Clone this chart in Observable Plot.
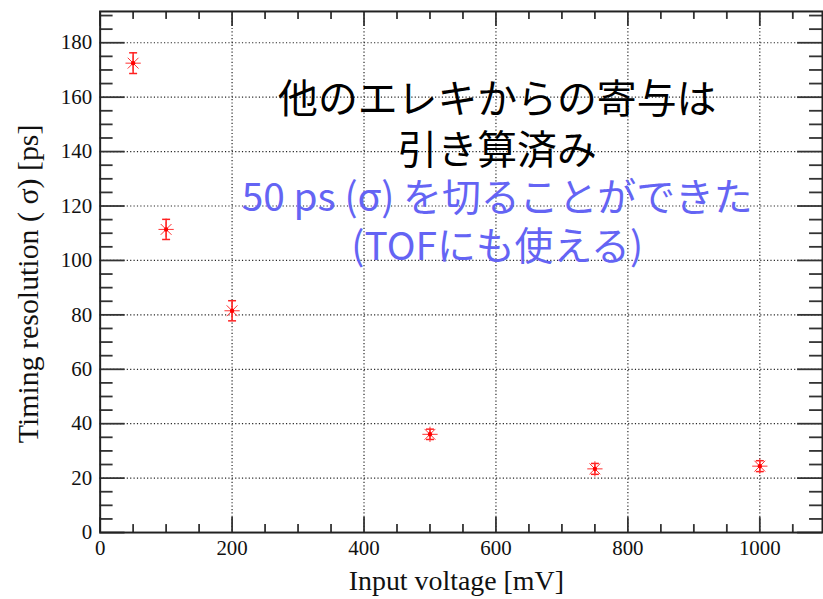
<!DOCTYPE html>
<html>
<head>
<meta charset="utf-8">
<script src="https://cdn.jsdelivr.net/npm/d3@7"></script>
<script src="https://cdn.jsdelivr.net/npm/@observablehq/plot@0.6"></script>
<style>
  html, body { margin: 0; padding: 0; background: #fff; overflow: hidden; }
  #chart svg { display: block; }
</style>
</head>
<body>
<div id="chart"></div>
<script>
// ---- data ----
const inputVoltage = [50, 100, 200, 500, 750, 1000];            // mV
const timingResolution = [172.5, 111.4, 81.5, 36.1, 23.4, 24.4]; // ps (sigma)
const resolutionError = [3.8, 3.7, 3.7, 1.9, 2.0, 2.0];          // ps

const xTickLabels = [0, 200, 400, 600, 800, 1000];
const yTickLabels = [0, 20, 40, 60, 80, 100, 120, 140, 160, 180];

const xTitle = "Input voltage [mV]";
const yTitle = "Timing resolution ( σ) [ps]";
const annotationBlack = ["他のエレキからの寄与は", "引き算済み"];
const annotationBlue = ["50 ps (σ) を切ることができた", "(TOFにも使える)"];

// ---- derived ----
const points = inputVoltage.map((v, i) => ({v, s: timingResolution[i], e: resolutionError[i]}));
const xMax = 1095, yMax = 191.5;
const xMinor = d3.range(50, xMax, 50).filter(d => d % 200 !== 0);
const yMinor = d3.range(5, yMax, 5).filter(d => d % 20 !== 0);

const W = 826, H = 599;
const mL = 100, mR = 1, mT = 11, mB = 65;
const FW = W - mL - mR, FH = H - mT - mB;

const hline = {draw(ctx, size) { const r = Math.sqrt(size / Math.PI); ctx.moveTo(-r, 0); ctx.lineTo(r, 0); }};

const serif = "'Liberation Serif', 'Times New Roman', serif";
const jp = "'Noto Sans CJK JP', 'Noto Sans', sans-serif";
const tickColor = "#333";

const chart = Plot.plot({
  width: W, height: H,
  marginLeft: mL, marginRight: mR, marginTop: mT, marginBottom: mB,
  style: {background: "#fff", overflow: "visible"},
  x: {domain: [0, xMax], axis: null},
  y: {domain: [0, yMax], axis: null},
  marks: [
    // dotted grid
    Plot.gridX({ticks: xTickLabels.filter(d => d > 0), stroke: "#000", strokeOpacity: 0.85, strokeDasharray: "1.2,2.2", strokeWidth: 1.2}),
    Plot.gridY({ticks: yTickLabels.filter(d => d > 0), stroke: "#000", strokeOpacity: 0.85, strokeDasharray: "1.2,2.2", strokeWidth: 1.2}),
    // inward ticks, bottom / top
    Plot.tickX(xTickLabels, {x: d => d, insetTop: FH - 15, stroke: tickColor, strokeWidth: 1.8}),
    Plot.tickX(xMinor, {x: d => d, insetTop: FH - 8, stroke: tickColor, strokeWidth: 1.8}),
    Plot.tickX(xTickLabels, {x: d => d, insetBottom: FH - 15, stroke: tickColor, strokeWidth: 1.8}),
    Plot.tickX(xMinor, {x: d => d, insetBottom: FH - 8, stroke: tickColor, strokeWidth: 1.8}),
    // inward ticks, left / right
    Plot.tickY(yTickLabels, {y: d => d, insetRight: FW - 25, stroke: tickColor, strokeWidth: 1.8}),
    Plot.tickY(yMinor, {y: d => d, insetRight: FW - 13, stroke: tickColor, strokeWidth: 1.8}),
    Plot.tickY(yTickLabels, {y: d => d, insetLeft: FW - 25, stroke: tickColor, strokeWidth: 1.8}),
    Plot.tickY(yMinor, {y: d => d, insetLeft: FW - 13, stroke: tickColor, strokeWidth: 1.8}),
    Plot.frame({stroke: "#222", strokeWidth: 2}),
    // error bars
    Plot.ruleX(points, {x: "v", y1: d => d.s - d.e, y2: d => d.s + d.e, stroke: "#ff2020", strokeWidth: 1.5}),
    Plot.dot(points, {x: "v", y: d => d.s + d.e, symbol: hline, r: 4, stroke: "#ff2020", strokeWidth: 1.5}),
    Plot.dot(points, {x: "v", y: d => d.s - d.e, symbol: hline, r: 4, stroke: "#ff2020", strokeWidth: 1.5}),
    // asterisk markers
    Plot.dot(points, {x: "v", y: "s", symbol: "plus", r: 5, stroke: "#ff3030", strokeWidth: 1}),
    Plot.dot(points, {x: "v", y: "s", symbol: "times", r: 5, stroke: "#ff3030", strokeWidth: 1}),
    Plot.dot(points, {x: "v", y: "s", r: 2.2, fill: "#ff0000", stroke: null}),
    // annotations
    Plot.text([annotationBlack.join("\n")], {frameAnchor: "top", dx: 36, dy: 111.5, lineAnchor: "middle", lineHeight: 1.27,
      fontSize: 40, fontFamily: jp, fill: "#000"}),
    Plot.text([annotationBlue.join("\n")], {frameAnchor: "top", dx: 36, dy: 209.5, lineAnchor: "middle", lineHeight: 1.26,
      fontSize: 39, fontFamily: jp, fill: "#6464f4"}),
    // tick labels
    Plot.axisX({ticks: xTickLabels, tickSize: 0, tickPadding: 8, tickFormat: d3.format("d"), fontSize: 21, fontFamily: serif, color: "#111", label: null}),
    Plot.axisY({ticks: yTickLabels, tickSize: 0, tickPadding: 8, tickFormat: d3.format("d"), fontSize: 21, fontFamily: serif, color: "#111", label: null}),
    // axis titles
    Plot.text([xTitle], {frameAnchor: "bottom", dx: -5, dy: 49, lineAnchor: "middle", fontSize: 28, fontFamily: serif, fill: "#111"}),
    Plot.text([yTitle], {frameAnchor: "left", dx: -72, dy: 12, rotate: -90, textAnchor: "middle", lineAnchor: "middle", fontSize: 30, fontFamily: serif, fill: "#111"})
  ]
});
document.getElementById("chart").appendChild(chart);
</script>
</body>
</html>
